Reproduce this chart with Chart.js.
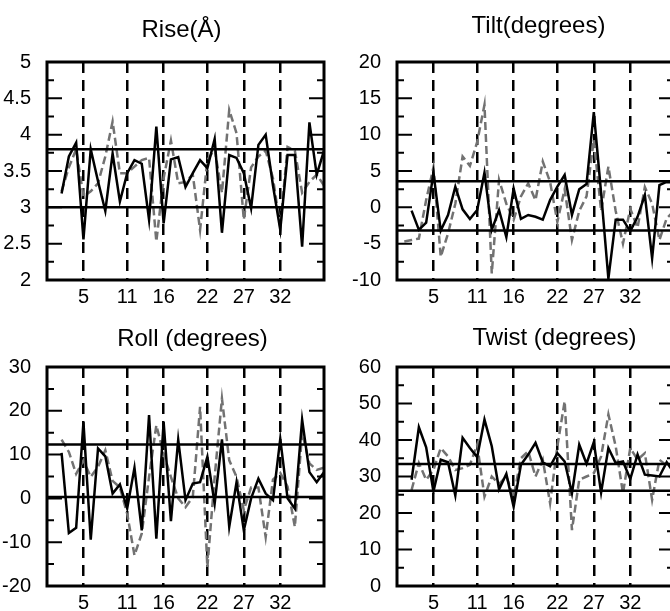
<!DOCTYPE html>
<html>
<head>
<meta charset="utf-8">
<script src="https://cdn.jsdelivr.net/npm/chart.js@4"></script>
<style>
  html, body { margin: 0; padding: 0; background: #fff; }
  body { width: 670px; height: 611px; overflow: hidden; position: relative; }
  canvas { position: absolute; }
</style>
</head>
<body>
<canvas id="rise"  width="335" height="306" style="left:0px;top:0px"></canvas>
<canvas id="tilt"  width="330" height="306" style="left:350px;top:0px"></canvas>
<canvas id="roll"  width="335" height="306" style="left:0px;top:305px"></canvas>
<canvas id="twist" width="330" height="306" style="left:350px;top:305px"></canvas>
<script>
// Base-pair step index along the x axis
const residues = [1, 2, 3, 4, 5, 6, 7, 8, 9, 10, 11, 12, 13, 14, 15, 16, 17, 18, 19,
                  20, 21, 22, 23, 24, 25, 26, 27, 28, 29, 30, 31, 32, 33, 34, 35, 36, 37, 38];
const xTickLabels = [5, 11, 16, 22, 27, 32];
const xRange = [0, 38];

// Rise (Å)
const riseYTicks = [2, 2.5, 3, 3.5, 4, 4.5, 5];
const riseSolid = [null, 3.19, 3.70, 3.89, 2.56, 3.80, 3.36, 2.95, 3.74, 3.08, 3.47, 3.65, 3.60, 2.83, 4.11, 2.78, 3.66, 3.69, 3.28,
                   3.47, 3.65, 3.54, 3.94, 2.65, 3.72, 3.68, 3.47, 2.99, 3.86, 4.00, 3.30, 2.69, 3.72, 3.72, 2.46, 4.17, 3.45, 3.78];
const riseDashed = [null, 3.22, 3.55, 3.80, 3.15, 3.22, 3.33, 3.70, 4.18, 3.47, 3.47, 3.56, 3.65, 3.68, 2.53, 3.40, 3.92, 3.33, 3.35,
                    3.45, 2.69, 3.65, 3.80, 3.20, 4.34, 4.02, 2.83, 3.55, 3.70, 3.78, 3.40, 2.73, 3.83, 3.78, 3.20, 3.35, 3.45, 3.30];
const riseLimits = [3.8, 3.0];

// Tilt (degrees)
const tiltYTicks = [-10, -5, 0, 5, 10, 15, 20];
const tiltSolid = [null, -0.46, -3.1, -2.1, 4.75, -3.2, -1.05, 2.84, -0.28, -1.6, -0.37, 4.77, -3.1, -0.37, -4.1, 2.6, -1.6, -1.05, -1.3,
                   -1.7, 1.0, 2.84, 4.45, -1.05, 2.5, 3.2, 13.1, 2.0, -9.8, -1.7, -1.7, -3.3, -1.3, 1.7, -7.0, 3.07, 3.5, 3.4];
const tiltDashed = [-4.7, -4.5, -4.3, 1.0, 5.5, -6.8, -3.6, 0.5, 7.0, 5.7, 9.0, 14.1, -9.1, 3.8, 0.5, -1.7, 1.5, 3.3, 1.0,
                    6.3, 3.5, -2.0, 2.5, -4.5, -0.5, 1.5, 9.3, -0.5, 5.6, -0.5, -5.0, -0.2, -2.8, 2.8, 0.5, -4.5, -1.5, -0.5];
const tiltLimits = [3.6, -3.2];

// Roll (degrees)
const rollYTicks = [-20, -10, 0, 10, 20, 30];
const rollSolid = [null, 10.4, -7.9, -6.7, 17.4, -9.4, 11.4, 9.6, 1.1, 3.2, -2.3, 7.0, -7.3, 19.0, -9.2, 17.4, -5.2, 13.4, -0.4,
                   3.4, 3.7, 9.5, -1.2, 13.5, -6.5, 3.7, -7.3, 0.0, 4.5, 1.1, -0.4, 13.6, 0.0, -2.3, 18.0, 6.0, 3.7, 6.0];
const rollDashed = [null, 13.4, 10.6, 5.6, 8.7, 4.9, 7.2, 11.0, 4.0, 2.5, -3.5, -13.0, -8.0, 4.9, 16.7, 10.2, 4.9, 0.0, -2.0,
                    0.3, 20.9, -15.7, 4.9, 22.8, 8.7, 4.9, -2.7, 2.5, 2.5, -8.8, 4.3, 5.8, 2.7, -6.5, 15.0, 8.0, 6.5, 7.0];
const rollLimits = [12.3, 0.3];

// Twist (degrees)
const twistYTicks = [0, 10, 20, 30, 40, 50, 60];
const twistSolid = [null, 29.1, 43.5, 38.0, 25.9, 34.6, 33.9, 24.8, 40.6, 37.8, 35.3, 45.6, 38.3, 26.5, 30.7, 21.7, 33.2, 36.0, 39.2,
                    33.9, 32.8, 36.4, 34.1, 25.4, 38.7, 33.5, 39.4, 25.6, 37.8, 33.7, 34.1, 29.3, 36.0, 30.5, 30.3, 30.0, 33.9, 31.0];
const twistDashed = [null, 26.3, 33.7, 29.1, 31.8, 37.8, 35.5, 31.8, 32.3, 33.2, 38.7, 24.5, 30.0, 28.0, 30.0, 24.5, 35.0, 36.9, 30.0,
                     34.6, 22.7, 38.3, 50.6, 15.3, 29.1, 30.0, 30.9, 35.5, 47.0, 38.3, 25.4, 37.8, 34.6, 36.4, 23.6, 34.6, 33.0, 33.5];
const twistLimits = [33.4, 26.1];

const FONT = '"Liberation Sans", Arial, Helvetica, sans-serif';

// Panel heading, placed by baseline so the four headings sit independently
const panelTitle = {
  id: 'panelTitle',
  afterDraw(chart, args, opts) {
    const ctx = chart.ctx, a = chart.chartArea;
    ctx.save();
    ctx.font = '24px ' + FONT;
    ctx.fillStyle = '#000';
    ctx.textAlign = 'center';
    ctx.textBaseline = 'alphabetic';
    ctx.fillText(opts.text, (a.left + a.right) / 2 + opts.dx, opts.baseline);
    ctx.restore();
  }
};

// Closed box around the plot with inward major/minor ticks on both sides
const frame = {
  id: 'frame',
  afterDatasetsDraw(chart) {
    const ctx = chart.ctx, a = chart.chartArea, y = chart.scales.y;
    const t = y.ticks.map(k => k.value);
    const marks = [];
    for (let i = 0; i < t.length; i++) {
      if (i > 0 && i < t.length - 1) marks.push([t[i], 15]);
      if (i < t.length - 1) marks.push([(t[i] + t[i + 1]) / 2, 7]);
    }
    ctx.save();
    ctx.strokeStyle = '#000';
    ctx.lineWidth = 2;
    ctx.beginPath();
    for (const [v, len] of marks) {
      const py = y.getPixelForValue(v);
      ctx.moveTo(a.left, py); ctx.lineTo(a.left + len, py);
      ctx.moveTo(a.right, py); ctx.lineTo(a.right - len, py);
    }
    ctx.stroke();
    ctx.lineWidth = 3;
    ctx.strokeRect(a.left, a.top, a.right - a.left, a.bottom - a.top);
    ctx.restore();
  }
};

function points(values) {
  return residues.map((r, i) => ({ x: r, y: values[i] }));
}

function limitLine(v) {
  return {
    data: [{ x: xRange[0], y: v }, { x: xRange[1], y: v }],
    borderColor: '#000', borderWidth: 2.5, pointRadius: 0, order: 1
  };
}

function makePanel(id, cfg) {
  const yTicks = cfg.yTicks;
  return new Chart(document.getElementById(id), {
    type: 'line',
    data: {
      datasets: [
        { data: points(cfg.solid), borderColor: '#000', borderWidth: 2.5, pointRadius: 0, tension: 0, order: 0 },
        limitLine(cfg.limits[0]),
        limitLine(cfg.limits[1]),
        { data: points(cfg.dashed), borderColor: '#727272', borderWidth: 2.5, borderDash: [8, 4],
          pointRadius: 0, tension: 0, order: 2 }
      ]
    },
    options: {
      responsive: false,
      animation: false,
      devicePixelRatio: 1,
      layout: { padding: { top: 62, right: cfg.padRight, bottom: 0, left: 0 } },
      plugins: {
        legend: { display: false },
        tooltip: { enabled: false },
        panelTitle: { text: cfg.title, dx: cfg.titleDx, baseline: cfg.titleBaseline }
      },
      scales: {
        x: {
          type: 'linear',
          min: xRange[0], max: xRange[1],
          afterBuildTicks: s => { s.ticks = xTickLabels.map(v => ({ value: v })); },
          afterFit: s => { s.height = cfg.xHeight; },
          ticks: { autoSkip: false, maxRotation: 0, padding: 5, color: '#000',
                   font: { family: FONT, size: 20 }, callback: v => String(v) },
          grid: { color: '#000', lineWidth: 2.5, drawTicks: false },
          border: { display: false, dash: [11, 7] }
        },
        y: {
          type: 'linear',
          min: yTicks[0], max: yTicks[yTicks.length - 1],
          afterBuildTicks: s => { s.ticks = yTicks.map(v => ({ value: v })); },
          afterFit: s => { s.width = 47; },
          ticks: { padding: 8, color: '#000', font: { family: FONT, size: 20 }, callback: v => String(v) },
          grid: { display: false },
          border: { display: false }
        }
      }
    },
    plugins: [frame, panelTitle]
  });
}

makePanel('rise',  { title: 'Rise(Å)', titleDx: -4, titleBaseline: 37, yTicks: riseYTicks,
                     solid: riseSolid, dashed: riseDashed, limits: riseLimits, padRight: 11, xHeight: 26 });
makePanel('tilt',  { title: 'Tilt(degrees)', titleDx: 3, titleBaseline: 33, yTicks: tiltYTicks,
                     solid: tiltSolid, dashed: tiltDashed, limits: tiltLimits, padRight: 6, xHeight: 26 });
makePanel('roll',  { title: 'Roll (degrees)', titleDx: 7, titleBaseline: 41, yTicks: rollYTicks,
                     solid: rollSolid, dashed: rollDashed, limits: rollLimits, padRight: 11, xHeight: 25 });
makePanel('twist', { title: 'Twist (degrees)', titleDx: 19, titleBaseline: 40, yTicks: twistYTicks,
                     solid: twistSolid, dashed: twistDashed, limits: twistLimits, padRight: 6, xHeight: 25 });
</script>
</body>
</html>
